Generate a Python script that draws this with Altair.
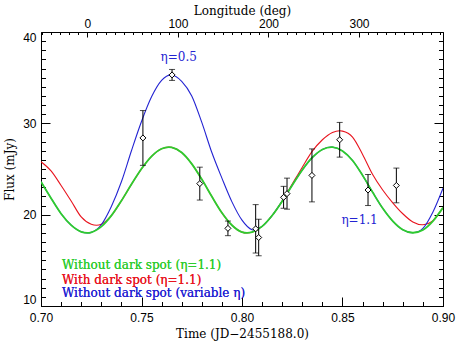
import altair as alt
import pandas as pd

# ---------------- data ----------------
time = [0.700, 0.705, 0.710, 0.715, 0.720, 0.725, 0.730, 0.735, 0.740, 0.745,
        0.750, 0.755, 0.760, 0.765, 0.770, 0.775, 0.780, 0.785, 0.790, 0.795,
        0.800, 0.805, 0.810, 0.815, 0.820, 0.825, 0.830, 0.835, 0.840, 0.845,
        0.850, 0.855, 0.860, 0.865, 0.870, 0.875, 0.880, 0.885, 0.890, 0.895,
        0.900]

# green: without dark spot (eta = 1.1)
flux_nospot = [23.6, 21.8, 20.1, 18.85, 18.12, 18.06, 18.69, 19.89, 21.52, 23.32,
               25.02, 26.39, 27.22, 27.37, 26.80, 25.56, 23.87, 21.98, 20.20, 18.84,
               18.09, 18.08, 18.72, 19.91, 21.48, 23.23, 24.90, 26.26, 27.14, 27.40,
               26.98, 25.93, 24.30, 22.45, 20.70, 19.30, 18.35, 18.02, 18.33, 19.30,
               20.77]

# red: with dark spot (eta = 1.1)
flux_spot = [25.8, 24.8, 23.2, 21.5, 19.75, 18.95, 18.95, 19.89, 21.52, 23.32,
             25.02, 26.39, 27.22, 27.37, 26.80, 25.56, 23.87, 21.98, 20.20, 18.84,
             18.09, 18.08, 18.72, 19.91, 21.5, 23.35, 25.2, 26.95, 28.2, 29.0,
             29.15, 28.5, 26.6, 24.4, 22.7, 21.3, 20.1, 19.2, 18.9, 19.35,
             20.77]

# blue: without dark spot (variable eta)
flux_var = [23.6, 21.8, 20.1, 18.85, 18.12, 18.06, 18.9, 20.9, 23.6, 27.0,
            30.2, 32.9, 34.7, 35.3, 34.6, 33.0, 30.1, 26.8, 24.0, 21.4,
            19.4, 18.35, 18.72, 19.91, 21.48, 23.23, 24.90, 26.26, 27.14, 27.40,
            26.98, 25.93, 24.30, 22.45, 20.70, 19.30, 18.35, 18.02, 18.5, 20.3,
            22.9]

obs_time = [0.7507, 0.7652, 0.7790, 0.7930, 0.8068, 0.8083, 0.8207, 0.8224,
            0.8348, 0.8486, 0.8627, 0.8768]
obs_flux = [28.4, 35.3, 23.4, 18.5, 18.45, 17.5, 21.9, 22.3, 24.3, 28.2, 22.7, 23.2]
obs_err = [3.0, 0.6, 1.8, 0.8, 2.65, 2.0, 1.2, 1.7, 2.9, 1.9, 1.7, 1.9]

anno_text = ["η=0.5", "η=1.1"]
anno_time = [0.7685, 0.8585]
anno_flux = [37.3, 19.4]

legend_text = ["Without dark spot (η=1.1)", "With dark spot (η=1.1)",
               "Without dark spot (variable η)"]

time_ticks_major = [0.70, 0.75, 0.80, 0.85, 0.90]
time_ticks_minor = [0.70, 0.71, 0.72, 0.73, 0.74, 0.75, 0.76, 0.77, 0.78, 0.79, 0.80,
                    0.81, 0.82, 0.83, 0.84, 0.85, 0.86, 0.87, 0.88, 0.89, 0.90]
flux_ticks_major = [10, 20, 30, 40]
flux_ticks_minor = list(range(10, 41))
lon_ticks_major = [0, 100, 200, 300]
lon_ticks_minor = list(range(-50, 391, 10))

T_DOM = [0.70, 0.90]
F_DOM = [10, 40]
LON_DOM = [-51.3, 392.8]

# ---------------- styling ----------------
W, H = 402, 274
GREEN, RED, BLUE = "#2ecc2e", "#e8141e", "#2323d2"
SERIF = "DejaVu Serif"
SANS = "Liberation Sans"

xs = alt.Scale(domain=T_DOM, nice=False, zero=False)
ys = alt.Scale(domain=F_DOM, nice=False, zero=False)
ls = alt.Scale(domain=LON_DOM, nice=False, zero=False)

curves = pd.DataFrame({"t": time, "green": flux_nospot, "red": flux_spot, "blue": flux_var})
obs = pd.DataFrame({"t": obs_time, "f": obs_flux, "e": obs_err})
obs["lo"] = obs["f"] - obs["e"]
obs["hi"] = obs["f"] + obs["e"]
anno = pd.DataFrame({"txt": anno_text, "t": anno_time, "f": anno_flux})
dom = pd.DataFrame({"t": T_DOM, "f": F_DOM, "lon": LON_DOM})


def X(field="t", axis=None, scale=xs):
    if axis is None:
        return alt.X(f"{field}:Q", scale=scale, axis=None)
    return alt.X(f"{field}:Q", scale=scale, axis=axis)


def Y(field, axis=None):
    if axis is None:
        return alt.Y(f"{field}:Q", scale=ys, axis=None)
    return alt.Y(f"{field}:Q", scale=ys, axis=axis)


main_x_axis = alt.Axis(orient="bottom", values=time_ticks_major, format=".2f", ticks=False,
                       domain=False, grid=False, labelFont=SANS, labelFontSize=12,
                       labelColor="black", labelPadding=6, labelFlush=False,
                       labelOverlap=False, title="Time (JD−2455188.0)", titleFont=SERIF,
                       titleFontSize=12, titleFontWeight="normal", titleColor="black",
                       titlePadding=5)
main_y_axis = alt.Axis(orient="left", values=flux_ticks_major, ticks=False, domain=False,
                       grid=False, labelFont=SANS, labelFontSize=12, labelColor="black",
                       labelPadding=5, labelFlush=True, labelOverlap=False,
                       title="Flux (mJy)", titleFont=SERIF, titleFontSize=12,
                       titleFontWeight="normal", titleColor="black", titlePadding=6)

red = alt.Chart(curves).mark_line(color=RED, strokeWidth=1.1, interpolate="cardinal", clip=True).encode(
    x=X("t", main_x_axis), y=Y("red", main_y_axis))
blue = alt.Chart(curves).mark_line(color=BLUE, strokeWidth=1.1, interpolate="cardinal", clip=True).encode(
    x=X(), y=Y("blue"))
green = alt.Chart(curves).mark_line(color=GREEN, strokeWidth=1.8, interpolate="cardinal", clip=True).encode(
    x=X(), y=Y("green"))

bars = alt.Chart(obs).mark_rule(color="black", strokeWidth=1).encode(
    x=X(), y=Y("lo"), y2="hi:Q")
cap_lo = alt.Chart(obs).mark_tick(orient="horizontal", size=6, thickness=1, color="black").encode(
    x=X(), y=Y("lo"))
cap_hi = alt.Chart(obs).mark_tick(orient="horizontal", size=6, thickness=1, color="black").encode(
    x=X(), y=Y("hi"))
pts = alt.Chart(obs).mark_point(shape="diamond", filled=True, fill="white", stroke="black",
                                strokeWidth=1, size=36, opacity=1).encode(
    x=X(), y=Y("f"))

anno_layer = alt.Chart(anno).mark_text(font=SERIF, fontSize=12, color=BLUE, align="center",
                                       baseline="middle").encode(
    x=X(), y=Y("f"), text="txt:N")

leg_y = [233, 248, 261]
leg_col = [GREEN, RED, BLUE]
legend_layers = [
    alt.Chart(dom).mark_text(font=SERIF, fontSize=12, color=c, align="left", baseline="middle",
                             text=txt).encode(x=alt.value(21), y=alt.value(yy))
    for txt, c, yy in zip(legend_text, leg_col, leg_y)
]


def tick_x(values, size, orient, offset, field="t", scale=xs):
    ax = alt.Axis(orient=orient, offset=offset, values=values, tickSize=size, labels=False,
                  domain=False, grid=False, title="", tickColor="black", tickWidth=1)
    return alt.Chart(dom).mark_point(opacity=0).encode(
        x=alt.X(f"{field}:Q", scale=scale, axis=ax), y=Y("f"))


def tick_y(values, size, orient, offset):
    ax = alt.Axis(orient=orient, offset=offset, values=values, tickSize=size, labels=False,
                  domain=False, grid=False, title="", tickColor="black", tickWidth=1)
    return alt.Chart(dom).mark_point(opacity=0).encode(
        x=X(), y=alt.Y("f:Q", scale=ys, axis=ax))


top_axis = alt.Axis(orient="top", values=lon_ticks_major, ticks=False, domain=False, grid=False,
                    labelFont=SANS, labelFontSize=12, labelColor="black", labelPadding=2,
                    labelFlush=False, labelOverlap=False, title="Longitude (deg)",
                    titleFont=SERIF, titleFontSize=12, titleFontWeight="normal",
                    titleColor="black", titlePadding=0)
top_labels = alt.Chart(dom).mark_point(opacity=0).encode(
    x=alt.X("lon:Q", scale=ls, axis=top_axis), y=Y("f"))

tick_layers = [
    tick_x(time_ticks_minor, 4.5, "top", -H),
    tick_x(time_ticks_major, 9, "top", -H),
    tick_x(lon_ticks_minor, 2.5, "bottom", -H, field="lon", scale=ls),
    tick_x(lon_ticks_major, 5, "bottom", -H, field="lon", scale=ls),
    tick_y(flux_ticks_minor, 4.5, "right", -W),
    tick_y(flux_ticks_major, 9, "right", -W),
    tick_y(flux_ticks_minor, 4.5, "left", -W),
    tick_y(flux_ticks_major, 9, "left", -W),
]

chart = alt.layer(
    red, blue, green, bars, cap_lo, cap_hi, pts, anno_layer, *legend_layers,
    top_labels, *tick_layers
).resolve_scale(
    x="independent", y="independent"
).properties(
    width=W, height=H,
    padding={"left": 41, "top": 32, "right": 33, "bottom": 47},
    autosize=alt.AutoSizeParams(type="none"),
    background="white",
).configure_view(
    stroke="black", strokeWidth=1
)

chart.save("out.html", embed_options={"renderer": "svg", "actions": False})
